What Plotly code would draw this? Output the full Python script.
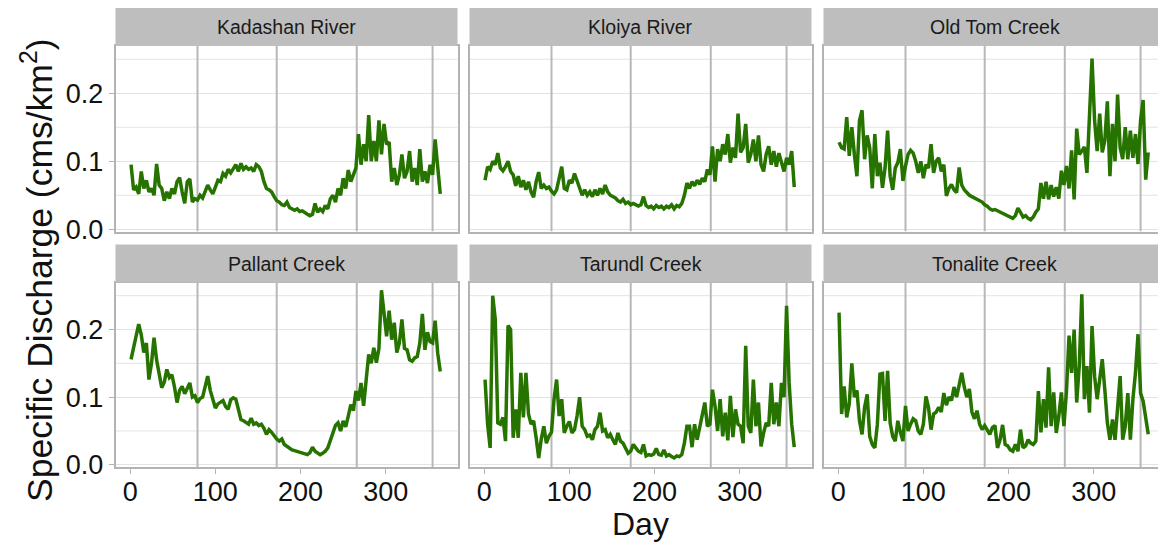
import plotly.graph_objects as go

W, H = 1158, 544

# Day of year (every third day)
days = list(range(1, 365, 3))

sites = ["Kadashan River", "Kloiya River", "Old Tom Creek",
         "Pallant Creek", "Tarundl Creek", "Tonalite Creek"]

kadashan = [
    0.095, 0.058, 0.062, 0.052, 0.085, 0.060, 0.072, 0.055, 0.060, 0.050,
    0.096, 0.065, 0.060, 0.042, 0.055, 0.045, 0.060, 0.052, 0.070, 0.076,
    0.055, 0.038, 0.070, 0.074, 0.040, 0.045, 0.043, 0.050, 0.046, 0.055,
    0.065, 0.058, 0.052, 0.062, 0.072, 0.070, 0.082, 0.078, 0.088, 0.083,
    0.090, 0.095, 0.085, 0.097, 0.088, 0.092, 0.088, 0.090, 0.085, 0.095,
    0.092, 0.085, 0.070, 0.060, 0.058, 0.055, 0.048, 0.042, 0.040, 0.036,
    0.035, 0.040, 0.032, 0.030, 0.028, 0.030, 0.026, 0.027, 0.024, 0.022,
    0.020, 0.022, 0.038, 0.025, 0.030, 0.026, 0.035, 0.030, 0.045, 0.050,
    0.040, 0.060, 0.050, 0.075, 0.060, 0.087, 0.070, 0.080, 0.090, 0.140,
    0.095, 0.125, 0.100, 0.168, 0.100, 0.130, 0.100, 0.160, 0.110, 0.155,
    0.125, 0.128, 0.070, 0.090, 0.065, 0.080, 0.110, 0.075, 0.085, 0.115,
    0.070, 0.090, 0.065, 0.118, 0.070, 0.085, 0.068, 0.095, 0.080, 0.132,
    0.090, 0.052,
]

kloiya = [
    0.072, 0.092, 0.088, 0.100, 0.095, 0.112, 0.090, 0.086, 0.092, 0.100,
    0.085, 0.080, 0.064, 0.078, 0.062, 0.072, 0.058, 0.070, 0.055, 0.047,
    0.070, 0.084, 0.060, 0.065, 0.060, 0.062, 0.056, 0.052, 0.058, 0.075,
    0.092, 0.060, 0.058, 0.072, 0.068, 0.082, 0.072, 0.060, 0.050, 0.058,
    0.050, 0.055, 0.048, 0.058, 0.050, 0.060, 0.052, 0.065, 0.055, 0.050,
    0.048, 0.046, 0.042, 0.040, 0.044, 0.038, 0.040, 0.036, 0.038, 0.036,
    0.034, 0.036, 0.048, 0.035, 0.032, 0.034, 0.030, 0.035, 0.032, 0.034,
    0.030, 0.034, 0.032, 0.036, 0.030, 0.035, 0.033, 0.038, 0.050, 0.068,
    0.060, 0.070, 0.064, 0.072, 0.066, 0.075, 0.070, 0.088, 0.080, 0.122,
    0.070, 0.118, 0.100, 0.125, 0.110, 0.140, 0.098, 0.120, 0.105, 0.170,
    0.113, 0.120, 0.155, 0.098, 0.110, 0.132, 0.100, 0.138, 0.095, 0.085,
    0.110, 0.122, 0.095, 0.115, 0.092, 0.112, 0.100, 0.085, 0.105, 0.095,
    0.115, 0.062,
]

old_tom = [
    0.128, 0.120, 0.118, 0.165, 0.108, 0.150, 0.110, 0.078, 0.160, 0.175,
    0.103, 0.138, 0.120, 0.060, 0.140, 0.078, 0.098, 0.061, 0.090, 0.145,
    0.078, 0.058, 0.090, 0.098, 0.118, 0.071, 0.093, 0.110, 0.116, 0.112,
    0.100, 0.083, 0.100, 0.075, 0.095, 0.090, 0.125, 0.083, 0.100, 0.105,
    0.085, 0.095, 0.049, 0.060, 0.066, 0.058, 0.054, 0.091, 0.065, 0.058,
    0.054, 0.050, 0.048, 0.046, 0.044, 0.042, 0.040, 0.036, 0.034, 0.030,
    0.028, 0.029, 0.027, 0.025, 0.024, 0.022, 0.020, 0.018, 0.016, 0.020,
    0.031, 0.025, 0.018, 0.020, 0.016, 0.014, 0.018, 0.025, 0.030, 0.068,
    0.045, 0.070, 0.044, 0.065, 0.048, 0.062, 0.045, 0.086, 0.065, 0.093,
    0.060, 0.116, 0.044, 0.148, 0.110, 0.115, 0.121, 0.083, 0.160, 0.251,
    0.160, 0.115, 0.170, 0.113, 0.130, 0.188, 0.078, 0.155, 0.100, 0.198,
    0.120, 0.103, 0.150, 0.103, 0.145, 0.105, 0.140, 0.096, 0.160, 0.190,
    0.073, 0.113,
]

pallant = [
    0.156, 0.175, 0.188, 0.208, 0.192, 0.166, 0.180, 0.126, 0.150, 0.188,
    0.155, 0.131, 0.114, 0.122, 0.141, 0.129, 0.133, 0.115, 0.092, 0.110,
    0.116, 0.105, 0.112, 0.121, 0.100, 0.102, 0.092, 0.098, 0.100, 0.115,
    0.131, 0.110, 0.096, 0.084, 0.090, 0.093, 0.095, 0.086, 0.082, 0.096,
    0.099, 0.097, 0.080, 0.067, 0.065, 0.063, 0.060, 0.069, 0.060, 0.062,
    0.058, 0.060, 0.054, 0.045, 0.052, 0.048, 0.042, 0.038, 0.035, 0.038,
    0.030, 0.027, 0.025, 0.022, 0.021, 0.020, 0.019, 0.017, 0.016, 0.015,
    0.018, 0.026, 0.020, 0.017, 0.015, 0.017, 0.020, 0.025, 0.037, 0.050,
    0.058, 0.062, 0.050, 0.065, 0.056, 0.072, 0.089, 0.080, 0.109, 0.095,
    0.121, 0.087, 0.130, 0.163, 0.150, 0.173, 0.151, 0.172, 0.258, 0.220,
    0.190, 0.228, 0.185, 0.210, 0.166, 0.180, 0.215, 0.172, 0.170, 0.155,
    0.153, 0.158, 0.160, 0.180, 0.223, 0.170, 0.196, 0.182, 0.180, 0.213,
    0.165, 0.138,
]

tarundl = [
    0.126, 0.060, 0.025, 0.250, 0.215, 0.062, 0.060, 0.070, 0.035, 0.206,
    0.200, 0.040, 0.082, 0.040, 0.136, 0.070, 0.136, 0.075, 0.060, 0.065,
    0.040, 0.010, 0.038, 0.057, 0.032, 0.042, 0.048, 0.097, 0.126, 0.072,
    0.097, 0.047, 0.057, 0.064, 0.047, 0.052, 0.072, 0.100, 0.057, 0.052,
    0.042, 0.044, 0.037, 0.052, 0.057, 0.077, 0.050, 0.052, 0.040, 0.045,
    0.037, 0.030, 0.047, 0.035, 0.032, 0.025, 0.017, 0.020, 0.030, 0.025,
    0.020, 0.018, 0.030, 0.013, 0.015, 0.014, 0.016, 0.024, 0.015, 0.014,
    0.022, 0.013, 0.015, 0.012, 0.010, 0.013, 0.012, 0.015, 0.032, 0.057,
    0.057, 0.026, 0.060, 0.037, 0.057, 0.072, 0.092, 0.057, 0.060, 0.111,
    0.087, 0.050, 0.097, 0.042, 0.077, 0.036, 0.102, 0.041, 0.082, 0.060,
    0.057, 0.032, 0.176, 0.057, 0.047, 0.126, 0.057, 0.092, 0.027, 0.047,
    0.062, 0.057, 0.121, 0.060, 0.092, 0.057, 0.121, 0.100, 0.235, 0.121,
    0.060, 0.026,
]

tonalite = [
    0.225, 0.075, 0.116, 0.070, 0.090, 0.150, 0.100, 0.110, 0.065, 0.045,
    0.085, 0.104, 0.042, 0.030, 0.025, 0.060, 0.134, 0.135, 0.065, 0.139,
    0.062, 0.042, 0.035, 0.065, 0.048, 0.035, 0.087, 0.050, 0.060, 0.068,
    0.065, 0.050, 0.045, 0.060, 0.101, 0.085, 0.052, 0.075, 0.078, 0.085,
    0.078, 0.106, 0.088, 0.100, 0.095, 0.115, 0.100, 0.120, 0.136, 0.115,
    0.100, 0.112, 0.078, 0.068, 0.080, 0.060, 0.052, 0.058, 0.050, 0.045,
    0.055, 0.058, 0.025, 0.037, 0.059, 0.030, 0.028, 0.022, 0.020, 0.030,
    0.020, 0.052, 0.025, 0.028, 0.037, 0.032, 0.030, 0.035, 0.109, 0.048,
    0.097, 0.055, 0.144, 0.057, 0.107, 0.047, 0.072, 0.107, 0.057, 0.109,
    0.191, 0.136, 0.200, 0.092, 0.146, 0.252, 0.097, 0.146, 0.077, 0.205,
    0.131, 0.097, 0.126, 0.156, 0.111, 0.062, 0.037, 0.067, 0.037, 0.082,
    0.131, 0.037, 0.057, 0.106, 0.037, 0.097, 0.136, 0.193, 0.106, 0.094,
    0.067, 0.045,
]

series = [kadashan, kloiya, old_tom, pallant, tarundl, tonalite]

# Equinox / solstice markers (day of year)
season_days = [79, 172, 266, 355]

y_tickvals = [0.0, 0.1, 0.2]
y_ticktext = ["0.0", "0.1", "0.2"]
y_minor = [0.05, 0.15, 0.25]
x_tickvals = [0, 100, 200, 300]

LINE_GREEN = "#267300"
BORDER = "#b3b3b3"
GRID = "#e3e3e3"
STRIP = "#bebebe"
FONT = "Liberation Sans, Arial, Helvetica, sans-serif"

# Panel geometry in pixels
col_px = [(115.5, 457.5), (469.5, 811.5), (823.5, 1165.5)]
row_px = [(46.0, 231.5), (282.5, 467.0)]
strip_px = [(8.0, 46.0), (244.5, 282.5)]
x_lo, x_hi = -17.25, 384.25
y_lo, y_hi = -0.0033, 0.2695


def px_x(v):
    return v / W


def px_y(v):
    return 1 - v / H


fig = go.Figure()
layout = dict(
    width=W, height=H,
    margin=dict(l=0, r=0, t=0, b=0, pad=0, autoexpand=False),
    paper_bgcolor="white", plot_bgcolor="white",
    showlegend=False,
    font=dict(family=FONT, color="#111111"),
)
shapes = []
annotations = []

for i, (name, vals) in enumerate(zip(sites, series)):
    r, c = divmod(i, 3)
    n = i + 1
    xa = "x" if n == 1 else f"x{n}"
    ya = "y" if n == 1 else f"y{n}"
    xkey = "xaxis" if n == 1 else f"xaxis{n}"
    ykey = "yaxis" if n == 1 else f"yaxis{n}"

    cx0, cx1 = col_px[c]
    visible_right = min(cx1, W)
    per_day = (cx1 - cx0) / (x_hi - x_lo)
    x_range = [x_lo, x_lo + (visible_right - cx0) / per_day]
    ry0, ry1 = row_px[r]

    # light horizontal grid at the half-steps
    for gv in y_minor:
        fig.add_trace(go.Scatter(
            x=x_range, y=[gv, gv], mode="lines",
            line=dict(color=GRID, width=1),
            xaxis=xa, yaxis=ya, hoverinfo="skip",
        ))
    # seasonal markers
    for d in season_days:
        fig.add_trace(go.Scatter(
            x=[d, d], y=[y_lo, y_hi], mode="lines",
            line=dict(color="#b8b8b8", width=2),
            xaxis=xa, yaxis=ya, hoverinfo="skip",
        ))

    fig.add_trace(go.Scatter(
        x=days, y=vals, mode="lines",
        line=dict(color=LINE_GREEN, width=3.5),
        xaxis=xa, yaxis=ya, hoverinfo="skip",
    ))

    bottom = r == 1
    left = c == 0
    layout[xkey] = dict(
        domain=[px_x(cx0), px_x(visible_right)],
        range=x_range, anchor=ya, automargin=False,
        showgrid=False, zeroline=False,
        showline=True, linecolor=BORDER, linewidth=1.5, mirror=True,
        tickvals=x_tickvals if bottom else [],
        showticklabels=bottom,
        ticks="outside" if bottom else "",
        ticklen=5, tickcolor=BORDER, tickwidth=1.2,
        ticklabelstandoff=-5,
        tickfont=dict(size=27, color="#111111"),
    )
    layout[ykey] = dict(
        domain=[px_y(ry1), px_y(ry0)],
        range=[y_lo, y_hi], anchor=xa, automargin=False,
        showgrid=True, gridcolor=GRID, gridwidth=1.2,
        zeroline=False,
        showline=True, linecolor=BORDER, linewidth=1.5,
        mirror=(c != 2),
        tickvals=y_tickvals, ticktext=y_ticktext,
        showticklabels=left,
        ticks="outside" if left else "",
        ticklen=5, tickcolor=BORDER, tickwidth=1.2,
        tickfont=dict(size=27, color="#111111"),
    )

    sy0, sy1 = strip_px[r]
    shapes.append(dict(
        type="rect", xref="paper", yref="paper",
        x0=px_x(cx0), x1=px_x(visible_right),
        y0=px_y(sy1), y1=px_y(sy0),
        fillcolor=STRIP, line=dict(width=0),
    ))
    annotations.append(dict(
        text=name, xref="paper", yref="paper",
        x=px_x((cx0 + cx1) / 2), y=px_y((sy0 + sy1) / 2),
        xanchor="center", yanchor="middle", showarrow=False,
        font=dict(size=19.5, color="#1a1a1a", family=FONT),
    ))

annotations.append(dict(
    text="Day", xref="paper", yref="paper",
    x=px_x((col_px[0][0] + col_px[2][1]) / 2), y=px_y(524),
    xanchor="center", yanchor="middle", showarrow=False,
    font=dict(size=32, color="#111111", family=FONT),
))
annotations.append(dict(
    text="Specific Discharge (cms/km<sup>2</sup>)", xref="paper", yref="paper",
    x=px_x(37), y=px_y(270),
    xanchor="center", yanchor="middle", showarrow=False, textangle=-90,
    font=dict(size=35.5, color="#111111", family=FONT),
))

layout["shapes"] = shapes
layout["annotations"] = annotations
fig.update_layout(**layout)

fig.write_html("out.html")
